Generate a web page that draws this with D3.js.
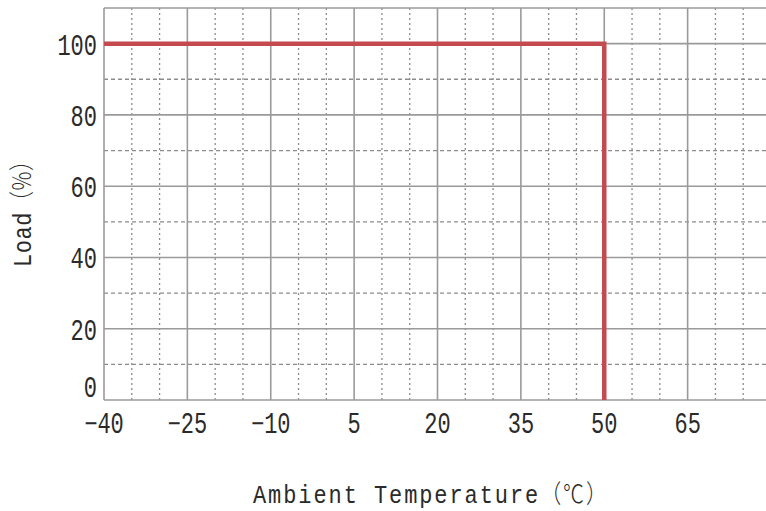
<!DOCTYPE html>
<html><head><meta charset="utf-8">
<script src="https://cdn.jsdelivr.net/npm/d3@7/dist/d3.min.js"></script>
<style>body{margin:0;background:#fff;} svg{display:block;}</style>
</head><body>
<svg id="c" width="766" height="511"></svg>
<script>
const xTicks = [-40, -25, -10, 5, 20, 35, 50, 65, 80];
const xTickLabels = [-40, -25, -10, 5, 20, 35, 50, 65];
const yTicks = [0, 20, 40, 60, 80, 100];
const curveTemp = [-40, 50, 50];
const curveLoad = [100, 100, 0];
const xTitleMain = "Ambient Temperature";
const xTitleUnit = "（℃）";
const yTitleMain = "Load";
const yTitleUnit = "（%）";

const svg = d3.select("#c");
const x = d3.scaleLinear().domain([-40, 80]).range([104, 771]);
const y = d3.scaleLinear().domain([0, 110]).range([400, 8]);
const gridCol = "#9a9a9a";
const font = "'Liberation Mono', 'Noto Sans CJK SC', monospace";
const cjk = "'Noto Sans CJK SC', sans-serif";
const txtCol = "#2a2a2a";

const g = svg.append("g");
const minorX = d3.range(-40, 81, 5).filter(v => (v + 40) % 15 !== 0);
g.selectAll(".vx").data(minorX).enter().append("line")
  .attr("x1", d => x(d)).attr("x2", d => x(d))
  .attr("y1", y(110)).attr("y2", y(0))
  .attr("stroke", "#8c8c8c").attr("stroke-width", 1.3).attr("stroke-dasharray", "2,3");
const minorY = [10, 30, 50, 70, 90];
g.selectAll(".hy").data(minorY).enter().append("line")
  .attr("x1", x(-40)).attr("x2", x(80))
  .attr("y1", d => y(d)).attr("y2", d => y(d))
  .attr("stroke", "#8c8c8c").attr("stroke-width", 1.3).attr("stroke-dasharray", "4,3");
g.selectAll(".mx").data(xTicks).enter().append("line")
  .attr("x1", d => x(d)).attr("x2", d => x(d))
  .attr("y1", y(110)).attr("y2", y(0))
  .attr("stroke", gridCol).attr("stroke-width", 1.6);
g.selectAll(".my").data(yTicks.concat([110])).enter().append("line")
  .attr("x1", x(-40)).attr("x2", x(80))
  .attr("y1", d => y(d)).attr("y2", d => y(d))
  .attr("stroke", gridCol).attr("stroke-width", 1.6);

const pts = curveTemp.map((t, i) => [t, curveLoad[i]]);
svg.append("path").datum(pts)
  .attr("d", d3.line().x(d => x(d[0])).y(d => y(d[1])))
  .attr("fill", "none").attr("stroke", "#c44a4f").attr("stroke-width", 4.5)
  .attr("stroke-linejoin", "miter");

function label(px, py, txt, anchor, sx, sy) {
  return svg.append("text")
    .attr("transform", `translate(${px},${py}) scale(${sx},${sy})`)
    .attr("text-anchor", anchor)
    .attr("font-family", font).attr("font-size", 22).attr("fill", txtCol)
    .text(txt);
}
xTickLabels.forEach(d => label(x(d), 433, d < 0 ? "\u2212" + Math.abs(d) : String(d), "middle", 1, 1.3));
yTicks.forEach(d => label(97, d === 0 ? 397 : y(d) + 11, String(d), "end", 1, 1.3));

const xt = svg.append("text")
  .attr("transform", "translate(253,503) scale(1,1.2)")
  .attr("font-family", font).attr("font-size", 22).attr("fill", txtCol)
  .attr("textLength", 354).attr("lengthAdjust", "spacing");
xt.append("tspan").text(xTitleMain);
xt.append("tspan").attr("font-family", cjk).attr("font-size", 21).attr("font-weight", 300).text(xTitleUnit);

const yt = svg.append("text")
  .attr("transform", "translate(31,267) rotate(-90) scale(1,1.2)")
  .attr("font-family", font).attr("font-size", 22).attr("fill", txtCol)
  .attr("textLength", 117).attr("lengthAdjust", "spacing");
yt.append("tspan").text(yTitleMain);
yt.append("tspan").attr("font-family", cjk).attr("font-size", 21).attr("font-weight", 300).text(yTitleUnit);
</script>
</body></html>
